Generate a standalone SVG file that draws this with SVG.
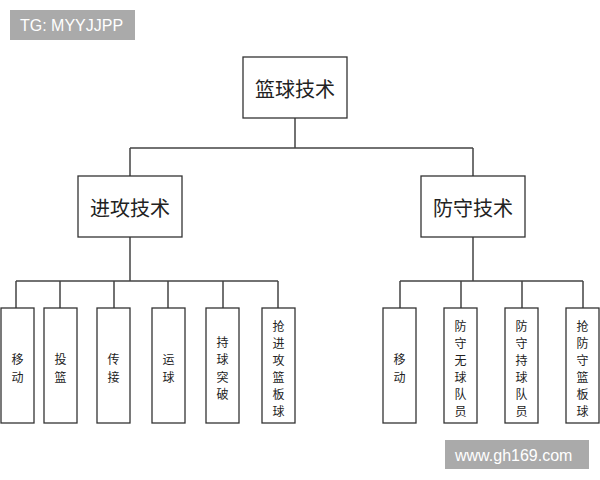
<svg xmlns="http://www.w3.org/2000/svg" width="600" height="480" viewBox="0 0 600 480">
<style>
.b{fill:#fff;stroke:#333;stroke-width:1.3}
.c{fill:none;stroke:#444;stroke-width:1.5}
.t{font-family:"Noto Sans CJK SC","Liberation Sans",sans-serif;fill:#222;text-anchor:middle;dominant-baseline:central}
.big{font-size:20px}
.sm{font-size:12px}
.w{font-family:"Liberation Sans",sans-serif;fill:#fff;font-size:16px;dominant-baseline:central}
</style>
<rect width="600" height="480" fill="#fff"/>
<g id="connectors">
<path class="c" d="M295 118V148M130 148H473M130 148V176M473 148V176"/>
<path class="c" d="M130 237V281M16 281H278M16 281V308M60 281V308M114 281V308M168 281V308M223 281V308M278 281V308"/>
<path class="c" d="M473 237V281M400 281H583M400 281V308M461 281V308M522 281V308M583 281V308"/>
</g>
<g id="root"><rect class="b" x="243" y="57" width="104" height="61"/><text class="t big" x="295" y="88">篮球技术</text></g>
<g id="attack"><rect class="b" x="78" y="176" width="104" height="61"/><text class="t big" x="130" y="207">进攻技术</text></g>
<g id="defense"><rect class="b" x="421" y="176" width="104" height="61"/><text class="t big" x="473" y="207">防守技术</text></g>
<g id="a1"><rect class="b" x="1" y="308" width="33" height="115"/><text class="t sm" x="17.5" y="358">移</text><text class="t sm" x="17.5" y="376">动</text></g>
<g id="a2"><rect class="b" x="44" y="308" width="33" height="115"/><text class="t sm" x="60.5" y="358">投</text><text class="t sm" x="60.5" y="376">篮</text></g>
<g id="a3"><rect class="b" x="97" y="308" width="33" height="115"/><text class="t sm" x="113.5" y="358">传</text><text class="t sm" x="113.5" y="376">接</text></g>
<g id="a4"><rect class="b" x="152" y="308" width="33" height="115"/><text class="t sm" x="168.5" y="358">运</text><text class="t sm" x="168.5" y="376">球</text></g>
<g id="a5"><rect class="b" x="206" y="308" width="33" height="115"/><text class="t sm" x="222.5" y="341">持</text><text class="t sm" x="222.5" y="358">球</text><text class="t sm" x="222.5" y="376">突</text><text class="t sm" x="222.5" y="393">破</text></g>
<g id="a6"><rect class="b" x="262" y="308" width="33" height="115"/><text class="t sm" x="278.5" y="325">抢</text><text class="t sm" x="278.5" y="342">进</text><text class="t sm" x="278.5" y="359">攻</text><text class="t sm" x="278.5" y="376">篮</text><text class="t sm" x="278.5" y="393">板</text><text class="t sm" x="278.5" y="410">球</text></g>
<g id="d1"><rect class="b" x="383" y="308" width="33" height="115"/><text class="t sm" x="399.5" y="358">移</text><text class="t sm" x="399.5" y="376">动</text></g>
<g id="d2"><rect class="b" x="444" y="308" width="33" height="115"/><text class="t sm" x="460.5" y="325">防</text><text class="t sm" x="460.5" y="342">守</text><text class="t sm" x="460.5" y="359">无</text><text class="t sm" x="460.5" y="376">球</text><text class="t sm" x="460.5" y="393">队</text><text class="t sm" x="460.5" y="410">员</text></g>
<g id="d3"><rect class="b" x="505" y="308" width="33" height="115"/><text class="t sm" x="521.5" y="325">防</text><text class="t sm" x="521.5" y="342">守</text><text class="t sm" x="521.5" y="359">持</text><text class="t sm" x="521.5" y="376">球</text><text class="t sm" x="521.5" y="393">队</text><text class="t sm" x="521.5" y="410">员</text></g>
<g id="d4"><rect class="b" x="566" y="308" width="33" height="115"/><text class="t sm" x="582.5" y="325">抢</text><text class="t sm" x="582.5" y="342">防</text><text class="t sm" x="582.5" y="359">守</text><text class="t sm" x="582.5" y="376">篮</text><text class="t sm" x="582.5" y="393">板</text><text class="t sm" x="582.5" y="410">球</text></g>
<rect x="10" y="10" width="125" height="30" fill="#aaa"/><text class="w" x="20" y="25">TG: MYYJJPP</text>
<rect x="445" y="440" width="144" height="29" fill="#aaa"/><text class="w" x="455" y="455">www.gh169.com</text>
</svg>
